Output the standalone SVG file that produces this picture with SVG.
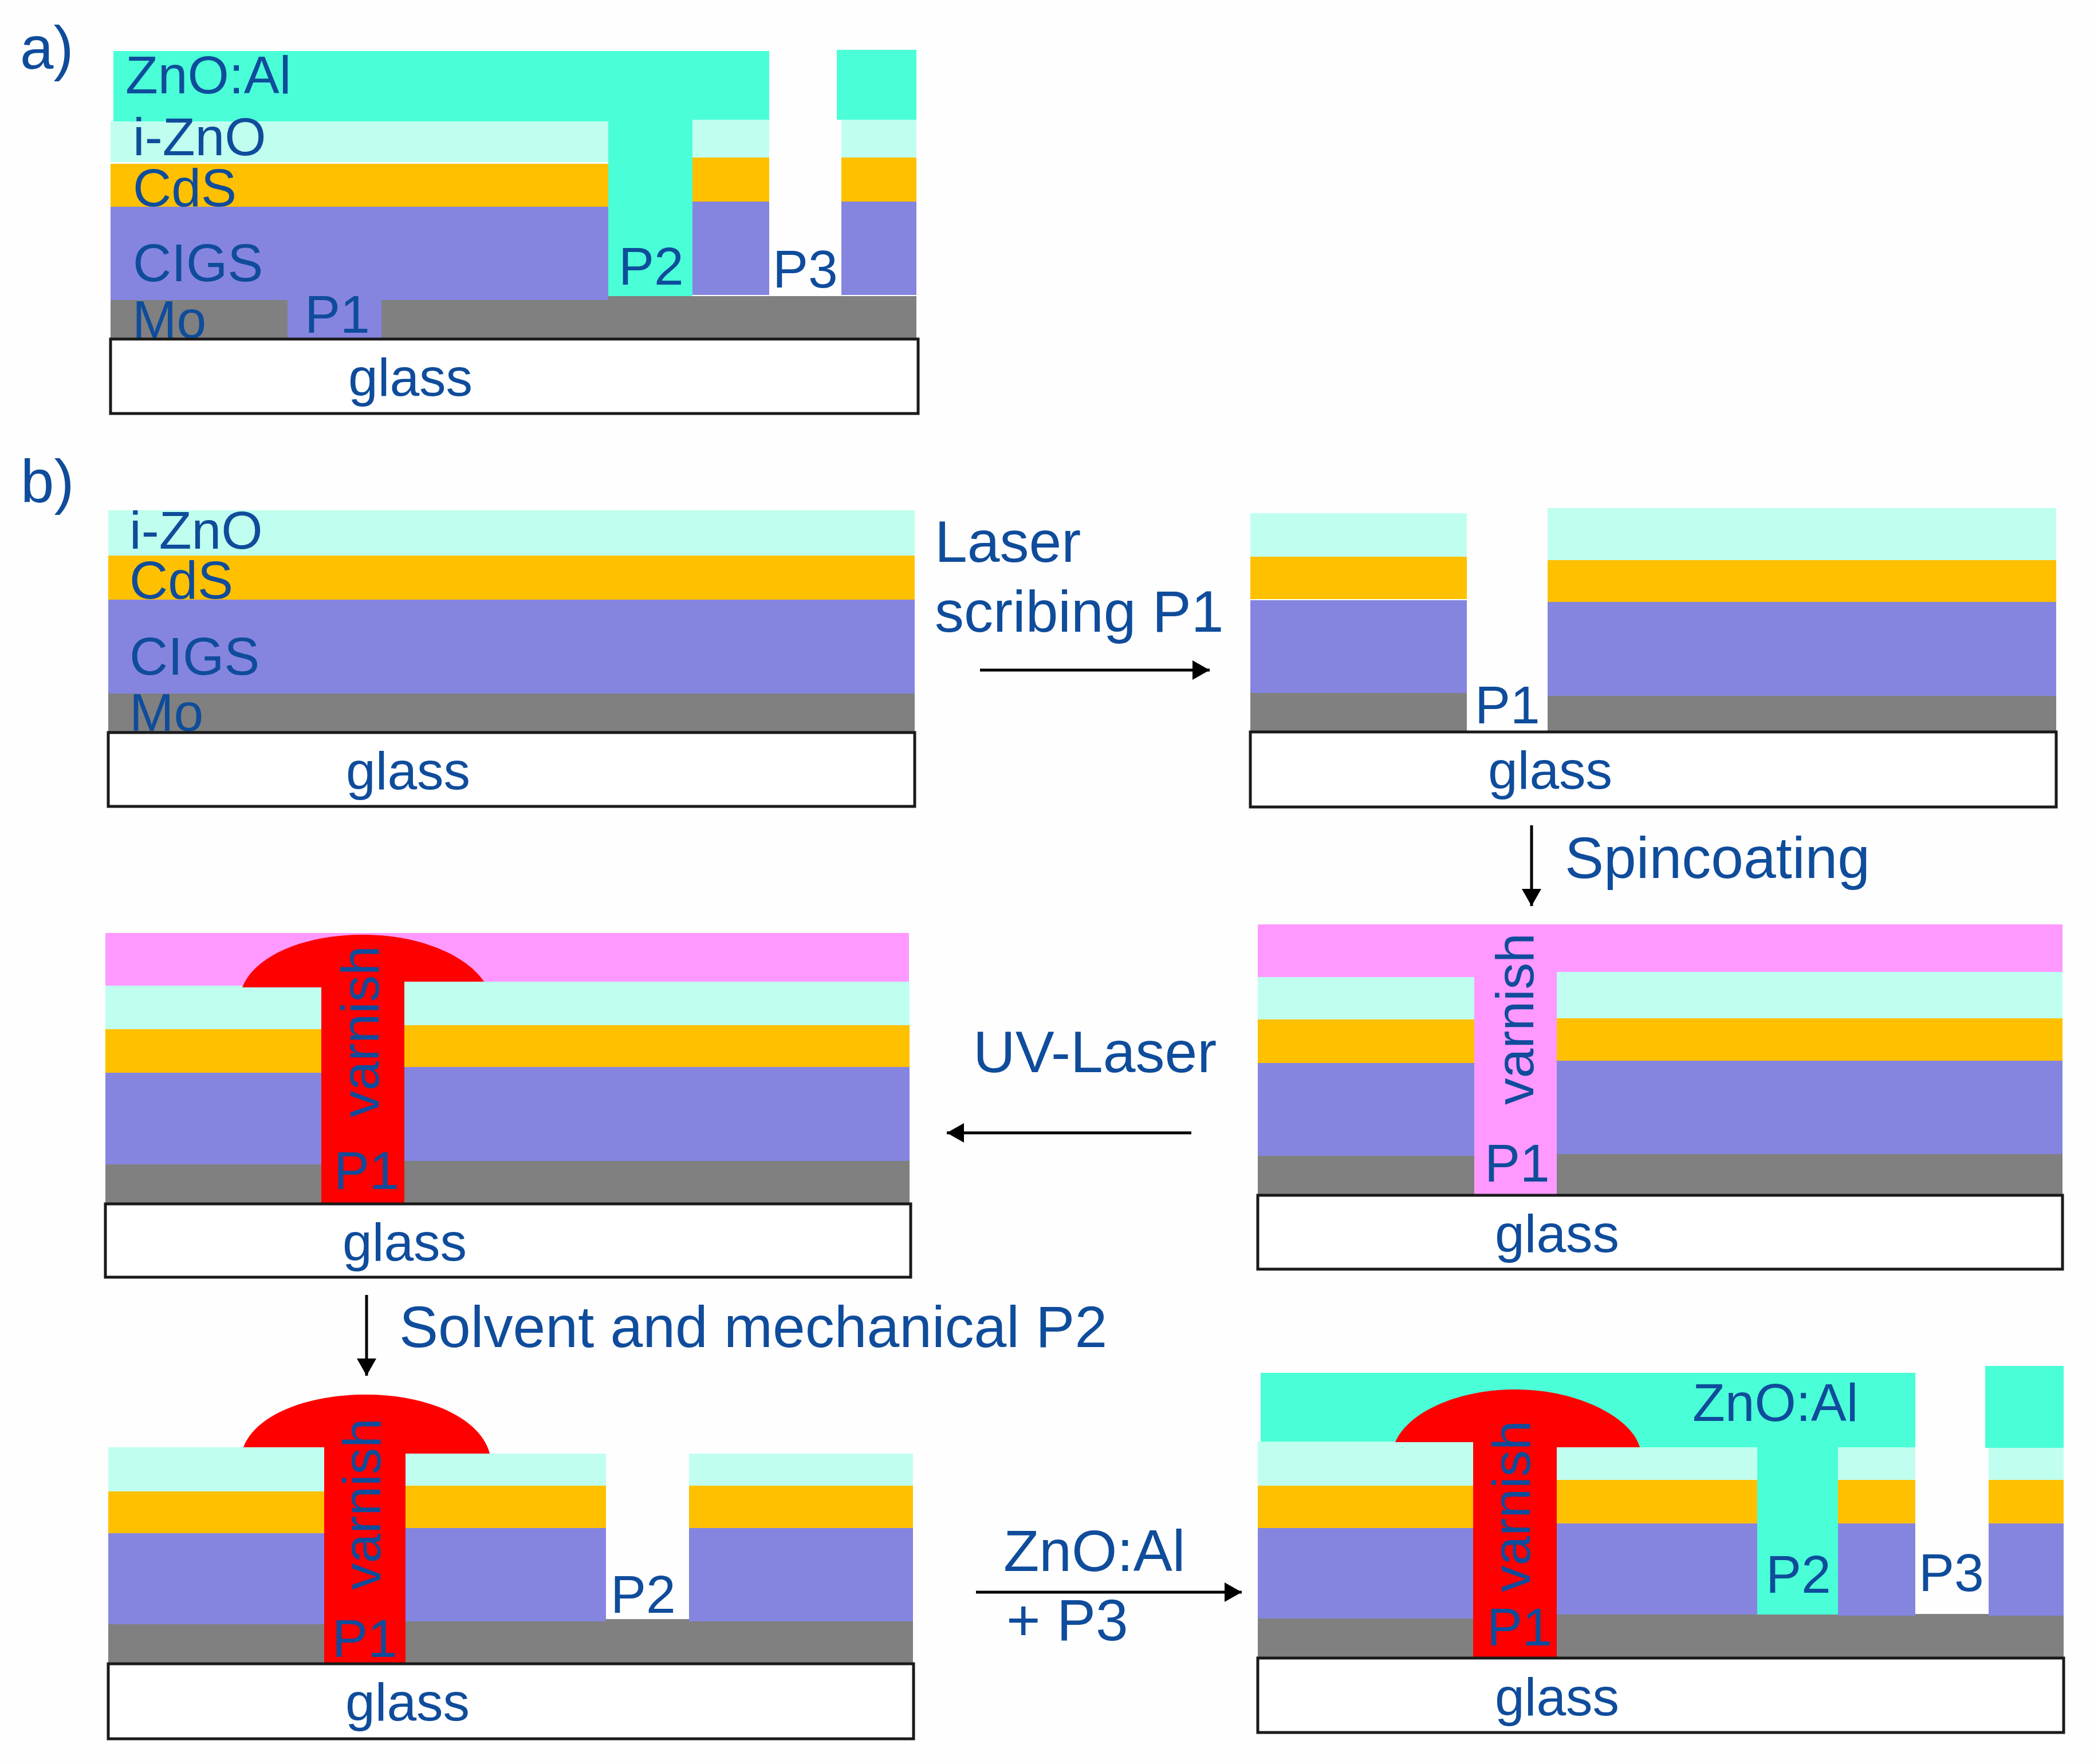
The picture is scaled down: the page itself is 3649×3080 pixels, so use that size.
<svg xmlns="http://www.w3.org/2000/svg" width="3649" height="3080" viewBox="0 0 3649 3080">
<style>
.z{fill:#4AFFD7}.i{fill:#C0FFEF}.c{fill:#FFC000}.g{fill:#8585E0}.m{fill:#808080}.v{fill:#FF99FF}.r{fill:#FF0000}
.b{fill:#FFFFFF;stroke:#1a1a1a;stroke-width:5}
text{font-family:"Liberation Sans",Arial,sans-serif;font-size:93px;fill:#0F4C9B}
.l{font-size:102px}
.a{stroke:#000;stroke-width:5;fill:none;marker-end:url(#h)}
</style>
<defs><marker id="h" markerUnits="userSpaceOnUse" markerWidth="32" markerHeight="34" refX="30" refY="17" orient="auto"><path d="M0 0L30 17L0 34Z" fill="#000"/></marker></defs>
<rect width="3649" height="3080" fill="#FEFEFE"/>

<g id="connectors">
<path class="a" d="M1711 1170H2112"/>
<path class="a" d="M2674 1441V1582"/>
<path class="a" d="M2080 1978H1653"/>
<path class="a" d="M640 2261V2402"/>
<path class="a" d="M1704 2780H2168"/>
</g>

<g id="label-a"><text class="l" x="35" y="120" style="font-size:105px">a)</text></g>
<g id="label-b"><text class="l" x="36" y="877" style="font-size:105px">b)</text></g>

<g id="panel-a">
<rect class="i" x="193" y="212" width="869" height="71"/>
<rect class="c" x="193" y="286" width="869" height="75"/>
<rect class="g" x="193" y="361" width="869" height="163"/>
<rect class="i" x="1209" y="209" width="134" height="66"/>
<rect class="c" x="1209" y="275" width="134" height="77"/>
<rect class="g" x="1209" y="352" width="134" height="163"/>
<rect class="i" x="1469" y="209" width="131" height="66"/>
<rect class="c" x="1469" y="275" width="131" height="77"/>
<rect class="g" x="1469" y="352" width="131" height="163"/>
<path class="m" d="M193 524H502V590H193ZM666 524H1062V517H1600V590H666Z"/>
<path class="z" d="M198 89H1343V209H1209V517H1062V212H198Z"/>
<rect class="z" x="1461" y="87" width="139" height="122"/>
<rect class="g" x="502" y="524" width="164" height="66"/>
<text x="219" y="163">ZnO:Al</text>
<text x="232" y="271">i-ZnO</text>
<text x="232" y="360">CdS</text>
<text x="232" y="491">CIGS</text>
<text x="231" y="590">Mo</text>
<text x="532" y="581">P1</text>
<text x="1080" y="497">P2</text>
<text x="1349" y="502">P3</text>
<rect class="b" x="193" y="592" width="1410" height="130"/>
<text x="608" y="691">glass</text>
</g>

<g id="panel-b1">
<rect class="i" x="189" y="891" width="1408" height="79"/>
<rect class="c" x="189" y="970" width="1408" height="77"/>
<rect class="g" x="189" y="1047" width="1408" height="164"/>
<rect class="m" x="189" y="1211" width="1408" height="68"/>
<text x="226" y="958">i-ZnO</text>
<text x="226" y="1045">CdS</text>
<text x="226" y="1178">CIGS</text>
<text x="226" y="1276">Mo</text>
<rect class="b" x="189" y="1279" width="1408" height="129"/>
<text x="604" y="1378">glass</text>
</g>

<g id="label-laser"><text class="l" x="1632" y="981">Laser</text><text class="l" x="1632" y="1103">scribing P1</text></g>

<g id="panel-b2">
<rect class="i" x="2183" y="896" width="378" height="76"/>
<rect class="c" x="2183" y="972" width="378" height="74"/>
<rect class="g" x="2183" y="1048" width="378" height="162"/>
<rect class="m" x="2183" y="1210" width="378" height="67"/>
<rect class="i" x="2702" y="887" width="888" height="91"/>
<rect class="c" x="2702" y="978" width="888" height="73"/>
<rect class="g" x="2702" y="1051" width="888" height="164"/>
<rect class="m" x="2702" y="1215" width="888" height="62"/>
<text x="2575" y="1263">P1</text>
<rect class="b" x="2183" y="1278" width="1407" height="131"/>
<text x="2598" y="1377">glass</text>
</g>

<g id="label-spin"><text class="l" x="2732" y="1533">Spincoating</text></g>
<g id="label-uv"><text class="l" x="1699" y="1872">UV-Laser</text></g>

<g id="panel-b3" transform="translate(0 -2)">
<rect class="i" x="2196" y="1708" width="378" height="74"/>
<rect class="c" x="2196" y="1782" width="378" height="76"/>
<rect class="g" x="2196" y="1858" width="378" height="162"/>
<rect class="m" x="2196" y="2020" width="378" height="68"/>
<rect class="i" x="2718" y="1699" width="883" height="81"/>
<rect class="c" x="2718" y="1780" width="883" height="74"/>
<rect class="g" x="2718" y="1854" width="883" height="163"/>
<rect class="m" x="2718" y="2017" width="883" height="71"/>
<path class="v" d="M2196 1616H3601V1699H2718V2088H2574V1708H2196Z"/>
<text transform="translate(2677 1931) rotate(-90)">varnish</text>
<text x="2592" y="2065">P1</text>
<rect class="b" x="2196" y="2089" width="1405" height="129"/>
<text x="2610" y="2188">glass</text>
</g>

<g id="panel-b4" transform="translate(0 -2)">
<path class="v" d="M184 1631H1587V1716H845L423 1723H184Z"/>
<rect class="i" x="184" y="1723" width="377" height="76"/>
<rect class="c" x="184" y="1799" width="377" height="76"/>
<rect class="g" x="184" y="1875" width="377" height="160"/>
<rect class="m" x="184" y="2035" width="377" height="68"/>
<rect class="i" x="706" y="1716" width="882" height="76"/>
<rect class="c" x="706" y="1792" width="882" height="73"/>
<rect class="g" x="706" y="1865" width="882" height="164"/>
<rect class="m" x="706" y="2029" width="882" height="74"/>
<path class="r" d="M423 1726C445 1671 530 1634 633 1634C735 1634 815 1671 845 1716H706V2103H561V1726Z"/>
<text transform="translate(661 1953) rotate(-90)">varnish</text>
<text x="583" y="2078">P1</text>
<rect class="b" x="184" y="2104" width="1406" height="128"/>
<text x="598" y="2203">glass</text>
</g>

<g id="label-solvent"><text class="l" x="697" y="2352">Solvent and mechanical P2</text></g>

<g id="panel-b5" transform="translate(0 -2)">
<rect class="i" x="189" y="2529" width="377" height="77"/>
<rect class="c" x="189" y="2606" width="377" height="73"/>
<rect class="g" x="189" y="2679" width="377" height="159"/>
<rect class="m" x="189" y="2838" width="377" height="67"/>
<rect class="i" x="708" y="2540" width="350" height="56"/>
<rect class="c" x="708" y="2596" width="350" height="74"/>
<rect class="g" x="708" y="2670" width="350" height="163"/>
<rect class="i" x="1203" y="2540" width="391" height="56"/>
<rect class="c" x="1203" y="2596" width="391" height="74"/>
<rect class="g" x="1203" y="2670" width="391" height="163"/>
<path class="m" d="M708 2833H1058V2829H1203V2833H1594V2905H708Z"/>
<path class="r" d="M425 2529C445 2475 530 2437 640 2437C750 2437 840 2480 855 2540H708V2905H566V2529Z"/>
<text transform="translate(664 2778) rotate(-90)">varnish</text>
<text x="580" y="2895">P1</text>
<text x="1066" y="2818">P2</text>
<rect class="b" x="189" y="2907" width="1406" height="131"/>
<text x="603" y="3006">glass</text>
</g>

<g id="label-zno"><text class="l" x="1752" y="2743">ZnO:Al</text><text class="l" x="1757" y="2864">+ P3</text></g>

<g id="panel-b6" transform="translate(0 -2)">
<rect class="i" x="2196" y="2519" width="376" height="77"/>
<rect class="c" x="2196" y="2596" width="376" height="74"/>
<rect class="g" x="2196" y="2670" width="376" height="158"/>
<rect class="m" x="2196" y="2828" width="376" height="68"/>
<rect class="i" x="2718" y="2529" width="350" height="57"/>
<rect class="c" x="2718" y="2586" width="350" height="76"/>
<rect class="g" x="2718" y="2662" width="350" height="159"/>
<rect class="i" x="3209" y="2529" width="135" height="57"/>
<rect class="c" x="3209" y="2586" width="135" height="76"/>
<rect class="g" x="3209" y="2662" width="135" height="161"/>
<rect class="i" x="3472" y="2530" width="131" height="56"/>
<rect class="c" x="3472" y="2586" width="131" height="76"/>
<rect class="g" x="3472" y="2662" width="131" height="161"/>
<path class="m" d="M2718 2821H3209V2823H3344V2820H3472V2823H3603V2896H2718Z"/>
<path class="z" d="M2201 2399H3344V2529H3209V2821H3068V2529H2572V2519H2201Z"/>
<rect class="z" x="3466" y="2387" width="137" height="143"/>
<path class="r" d="M2436 2520C2460 2465 2550 2428 2645 2428C2760 2428 2850 2480 2863 2529H2718V2896H2572V2520Z"/>
<text transform="translate(2671 2782) rotate(-90)">varnish</text>
<text x="2596" y="2875">P1</text>
<text x="2955" y="2483">ZnO:Al</text>
<text x="3083" y="2783">P2</text>
<text x="3350" y="2780">P3</text>
<rect class="b" x="2196" y="2897" width="1407" height="130"/>
<text x="2610" y="2997">glass</text>
</g>
</svg>
